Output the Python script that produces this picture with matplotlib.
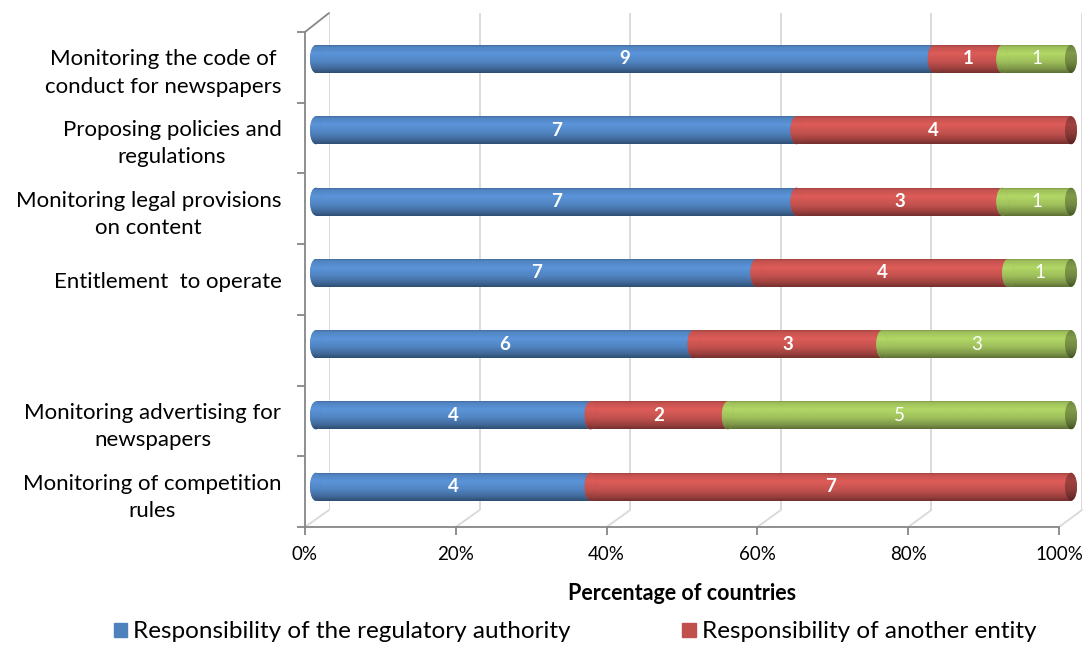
import matplotlib
matplotlib.use("Agg")
import matplotlib.pyplot as plt
import matplotlib.colors as mcolors
from matplotlib.patches import Ellipse, Patch, ConnectionPatch
import numpy as np

# ---------------- data ----------------
categories = [
    "Monitoring the code of\nconduct for newspapers",
    "Proposing policies and\nregulations",
    "Monitoring legal provisions\non content",
    "Entitlement  to operate",
    "",
    "Monitoring advertising for\nnewspapers",
    "Monitoring of competition\nrules",
]
regulator = [9, 7, 7, 7, 6, 4, 4]
another = [1, 4, 3, 4, 3, 2, 7]
third = [1, 0, 1, 1, 3, 5, 0]
series_names = ["Responsibility of the regulatory authority",
                "Responsibility of another entity"]
xtick_values = [0.0, 0.2, 0.4, 0.6, 0.8, 1.0]
xtick_labels = ["0%", "20%", "40%", "60%", "80%", "100%"]
x_title = "Percentage of countries"

colors = ["#4F81BD", "#C0504D", "#9BBB59"]

plt.rcParams['font.family'] = ['Lato', 'DejaVu Sans']

W, H = 1085, 649
fig = plt.figure(figsize=(W / 100, H / 100), dpi=100)


def frac(x0, x1, y0, y1):
    return [x0 / W, 1 - y1 / H, (x1 - x0) / W, (y1 - y0) / H]


n = len(categories)

# ---------------- back wall (gridlines) ----------------
wall = fig.add_axes(frac(329, 1082, 13, 510), zorder=0)
wall.set_xlim(0, 1)
wall.set_ylim(0, 1)
wall.set_xticks(xtick_values)
wall.set_yticks([])
wall.grid(axis='x', color='#D9D9D9', lw=1.3)
wall.tick_params(length=0, labelbottom=False)
for s in wall.spines.values():
    s.set_visible(False)
wall.patch.set_alpha(0)

# ---------------- floor / front axes ----------------
floor = fig.add_axes(frac(305, 1059, 32, 527), zorder=1)
floor.patch.set_alpha(0)
floor.set_xlim(0, 1)
floor.set_ylim(n, 0)
floor.spines['top'].set_visible(False)
floor.spines['right'].set_visible(False)
for side in ('left', 'bottom'):
    floor.spines[side].set_color('#868686')
    floor.spines[side].set_linewidth(1.3)
floor.set_xticks(xtick_values, xtick_labels)
floor.set_yticks(np.arange(n + 1))
floor.set_yticklabels([])
floor.set_yticks(np.arange(n) + 0.5, categories, minor=True)
floor.tick_params(axis='y', which='major', length=6, width=1.3, color='#868686', direction='out')
floor.tick_params(axis='y', which='minor', length=0, pad=17, labelsize=16)
floor.tick_params(axis='x', length=6, width=1.3, color='#868686', labelsize=13.5, pad=8)
for lbl in floor.get_yticklabels(minor=True):
    lbl.set_multialignment('center')
    lbl.set_linespacing(1.45)
floor.set_xlabel(x_title, fontweight='bold', fontsize=15.5, labelpad=14)

# perspective connectors between floor and back wall
for xv in xtick_values:
    cp = ConnectionPatch(xyA=(xv, n), coordsA=floor.transData,
                         xyB=(xv, 0), coordsB=wall.transData,
                         color='#D9D9D9', lw=1.3)
    fig.add_artist(cp)
cp = ConnectionPatch(xyA=(0, 0), coordsA=floor.transData,
                     xyB=(0, 1), coordsB=wall.transData,
                     color='#868686', lw=1.3)
fig.add_artist(cp)

# ---------------- bars ----------------
pad_px = 8
ax = fig.add_axes(frac(316 - pad_px, 1071 + pad_px, 13, 528), zorder=2)
ax.patch.set_alpha(0)
row_top_px, row_step_px = 59.0, 71.3
ylim = ((528 - row_top_px) / row_step_px, (13 - row_top_px) / row_step_px)
xlim = (-pad_px / 755, 1 + pad_px / 755)
ax.axis('off')

bar_h = 28 / row_step_px
cap_w = 12 / 755

prof_t = [0.0, 0.06, 0.3, 0.6, 0.85, 1.0]
prof_f = [0.85, 1.02, 1.15, 1.02, 0.8, 0.6]
fac = np.interp(np.linspace(0, 1, 64), prof_t, prof_f)


def grad_img(color, scale=1.0):
    rgb = np.array(mcolors.to_rgb(color)) * scale
    return np.clip(fac[:, None] * rgb[None, :], 0, 1)[:, None, :]


zc = [3]


def shade(patch, color, x0, x1, yc, scale=1.0):
    im = ax.imshow(grad_img(color, scale), extent=(x0, x1, yc + bar_h / 2, yc - bar_h / 2),
                   origin='upper', aspect='auto', interpolation='bilinear', zorder=zc[0])
    im.set_clip_path(patch)
    zc[0] += 1


counts_list = [regulator, another, third]
totals = np.sum(np.array(counts_list), axis=0)
y = np.arange(n)
left = np.zeros(n)
for k, counts in enumerate(counts_list):
    share = np.array(counts) / totals
    bars = ax.barh(y, share, left=left, height=bar_h, color=colors[k], lw=0)
    for i, rect in enumerate(bars):
        if counts[i] == 0:
            rect.set_visible(False)
            continue
        rect.set_zorder(zc[0]); zc[0] += 1
        shade(rect, colors[k], left[i], left[i] + share[i], y[i])
        el = Ellipse((left[i], y[i]), cap_w, bar_h, color=colors[k], lw=0, zorder=zc[0])
        zc[0] += 1
        ax.add_patch(el)
        shade(el, colors[k], left[i] - cap_w / 2, left[i] + cap_w / 2, y[i])
    left = left + share

# right end caps
for i in range(n):
    last = max(k for k in range(3) if counts_list[k][i] > 0)
    el = Ellipse((1.0, y[i]), cap_w, bar_h, color=colors[last], lw=0, zorder=zc[0])
    zc[0] += 1
    ax.add_patch(el)
    shade(el, colors[last], 1.0 - cap_w / 2, 1.0 + cap_w / 2, y[i], scale=0.72)

# value labels
left = np.zeros(n)
for k, counts in enumerate(counts_list):
    share = np.array(counts) / totals
    for i in range(n):
        if counts[i] > 0:
            ax.text(left[i] + share[i] / 2, y[i], str(counts[i]), color='white',
                    ha='center', va='center', fontsize=13.5,
                    fontweight='bold' if k < 2 else 'normal', zorder=500)
    left = left + share

ax.set_xlim(*xlim)
ax.set_ylim(*ylim)

# ---------------- legend ----------------
handles = [Patch(color=colors[0]), Patch(color=colors[1])]
fig.legend(handles=handles, labels=series_names, ncol=2, loc='center',
           bbox_to_anchor=(575 / W, 1 - 632 / H), frameon=False, fontsize=17.5,
           handlelength=0.55, handleheight=0.55, handletextpad=0.25, columnspacing=4.6)

fig.savefig("out.png", dpi=100)
